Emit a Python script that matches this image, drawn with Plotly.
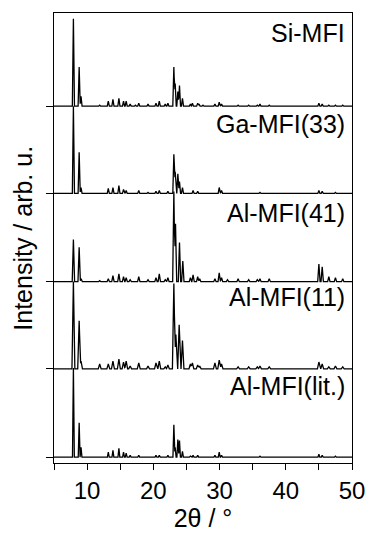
import plotly.graph_objects as go

# Sample names (top to bottom) and vertical offsets of their baselines
names = ["Si-MFI", "Ga-MFI(33)", "Al-MFI(41)", "Al-MFI(11)", "Al-MFI(lit.)"]
offsets = [358, 269, 179, 90, 0]

# Peak positions (2theta, deg) and heights (arb. u.)
si_pos = [7.93, 8.80, 9.08, 11.9, 13.2, 13.9, 14.8, 15.5, 15.9, 16.5, 17.3, 17.8, 19.2, 20.4, 20.9, 21.8, 22.2,
          23.1, 23.3, 23.7, 23.95, 24.4, 25.6, 25.9, 26.7, 26.9, 27.5, 29.3, 29.95, 30.3, 32.8, 34.4, 35.7,
          36.1, 37.5, 45.0, 45.5, 46.5, 47.5, 48.6]
si_h = [89, 40, 10, 1, 5, 7, 8, 5, 5, 2, 1, 3, 2, 3, 5, 2, 3,
        40, 23, 15, 21, 8, 2, 3, 3, 2, 1, 2, 4, 2, 1, 1, 1,
        2, 1, 3, 2, 1, 1, 1]

ga_pos = [7.93, 8.80, 9.08, 13.2, 13.9, 14.8, 15.5, 15.9, 17.8, 19.2, 20.4, 20.9, 22.2,
          23.1, 23.3, 23.7, 23.95, 24.4, 26.0, 26.7, 29.95, 30.3, 36.1, 45.0, 45.5, 47.5]
ga_h = [89, 42, 6, 5, 6, 8, 4, 3, 3, 1, 2, 3, 2,
        40, 22, 20, 12, 6, 3, 2, 6, 3, 1, 3, 2, 1]

al41_pos = [7.93, 8.80, 9.10, 11.9, 13.2, 13.9, 14.8, 15.5, 15.9, 16.5, 17.8, 19.2, 20.4, 20.9, 21.8, 22.2,
            23.1, 23.35, 23.95, 24.45, 25.6, 26.0, 26.7, 27.0, 29.3, 29.95, 30.3, 31.2, 32.8, 34.4,
            35.7, 36.1, 37.5, 45.0, 45.5, 46.5, 47.5, 48.6]
al41_h = [43, 35, 3, 1, 3, 6, 8, 5, 4, 2, 5, 2, 4, 8, 2, 4,
          92, 59, 40, 21, 4, 7, 5, 3, 3, 9, 4, 2, 3, 2,
          2, 3, 3, 18, 15, 5, 4, 3]

al11_pos = [7.93, 8.80, 9.08, 11.9, 13.2, 13.9, 14.8, 15.5, 15.9, 16.5, 17.8, 19.2, 20.4, 20.9, 21.8, 22.2,
            23.1, 23.4, 23.9, 24.4, 25.6, 25.9, 26.7, 27.0, 29.3, 29.95, 30.3, 32.8, 34.4, 35.7, 36.1,
            37.5, 45.0, 45.5, 46.5, 47.5, 48.6]
al11_h = [89, 49, 8, 5, 5, 8, 10, 7, 8, 3, 6, 3, 6, 8, 2, 4,
          87, 35, 45, 29, 5, 6, 4, 3, 6, 9, 5, 2, 2, 2, 3,
          2, 7, 5, 2, 3, 2]

lit_pos = [7.93, 8.80, 9.08, 13.2, 13.9, 14.8, 15.5, 15.9, 16.5, 17.8, 20.4, 20.9, 22.2,
           23.1, 23.3, 23.7, 23.95, 24.4, 25.6, 26.0, 26.7, 29.3, 29.95, 30.3, 36.1, 45.0, 45.5, 47.5]
lit_h = [91, 35, 10, 5, 7, 9, 5, 4, 2, 2, 2, 2, 2,
         33, 10, 18, 17, 6, 1, 2, 2, 2, 5, 2, 1, 3, 2, 1]

peaks = [(si_pos, si_h), (ga_pos, ga_h), (al41_pos, al41_h), (al11_pos, al11_h), (lit_pos, lit_h)]
half_widths = [0.16, 0.16, 0.18, 0.22, 0.14]

x_ticks = [10, 20, 30, 40, 50]
FONT = "Liberation Sans, Arial, sans-serif"


def profile(pos, h, hw):
    keys = sorted(set([5.0, 50.0] + [p for p in pos] + [p - hw for p in pos] + [p + hw for p in pos]))
    ys = []
    for x in keys:
        v = 0.0
        for p, hh in zip(pos, h):
            d = abs(x - p)
            if d < hw:
                v = max(v, hh * (1 - d / hw))
        ys.append(v)
    return keys, ys


fig = go.Figure()
for (pos, h), hw, off in zip(peaks, half_widths, offsets):
    xs, ys = profile(pos, h, hw)
    fig.add_trace(go.Scatter(x=xs, y=[y + off for y in ys], mode="lines",
                             line=dict(color="black", width=1.3), showlegend=False,
                             hoverinfo="skip"))

label_y = [433, 340, 249, 163, 73]
for name, ly in zip(names, label_y):
    fig.add_annotation(x=49.3, y=ly, xref="x", yref="y", text=name, showarrow=False,
                       xanchor="right", yanchor="middle",
                       font=dict(family=FONT, size=25, color="black"))

fig.add_annotation(xref="paper", yref="paper", x=-0.105, y=0.5, text="Intensity / arb. u.",
                   textangle=-90, showarrow=False, xanchor="center", yanchor="middle",
                   font=dict(family=FONT, size=25, color="black"))

fig.update_layout(
    width=377, height=533,
    margin=dict(l=54, r=17, t=13, b=61),
    paper_bgcolor="white", plot_bgcolor="white",
    font=dict(family=FONT, size=24, color="black"),
    xaxis=dict(range=[5, 50], tickvals=x_ticks, ticks="outside", ticklen=6, tickwidth=1,
               tickcolor="black", showline=True, linecolor="black", linewidth=1, mirror=True,
               showgrid=False, zeroline=False, tickfont=dict(size=24),
               minor=dict(dtick=5, tick0=5, ticks="outside", ticklen=6, tickcolor="black", showgrid=False),
               title=dict(text="2θ / °", font=dict(size=25), standoff=0)),
    yaxis=dict(range=[-6, 453], tickvals=offsets, ticks="outside", ticklen=7, tickwidth=1,
               tickcolor="black", showticklabels=False, showline=True, linecolor="black",
               linewidth=1, mirror=True, showgrid=False, zeroline=False),
)

fig.write_html("out.html")
